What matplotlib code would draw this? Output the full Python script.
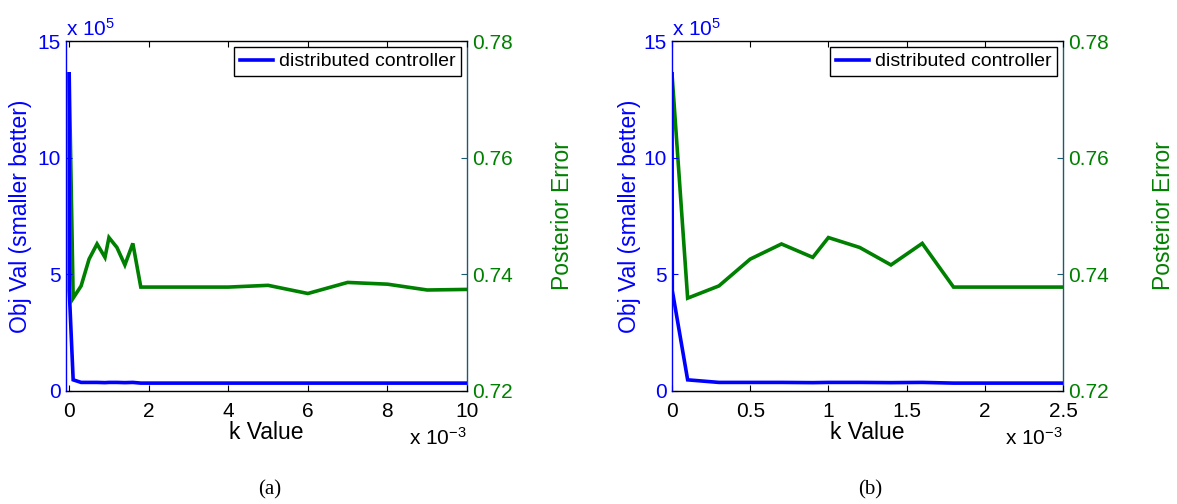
import matplotlib
matplotlib.use("Agg")
import matplotlib.pyplot as plt

plt.rcParams['font.family'] = ['Liberation Sans', 'DejaVu Sans']
plt.rcParams['mathtext.fontset'] = 'custom'
plt.rcParams['mathtext.rm'] = 'Liberation Sans'
plt.rcParams['mathtext.it'] = 'Liberation Sans'
plt.rcParams['mathtext.default'] = 'regular'

# ---------------- data (k in units of 1e-3, objective in units of 1e5) ----
k_err = [0, 0.1, 0.3, 0.5, 0.7, 0.9, 1.0, 1.2, 1.4, 1.6, 1.8, 2, 3, 4, 5, 6, 7, 8, 9, 10]
post_err = [0.7744, 0.7359, 0.7380, 0.7426, 0.7452, 0.7429, 0.7463, 0.7446, 0.7416,
            0.7453, 0.7378, 0.7378, 0.7378, 0.7378, 0.7381, 0.7367, 0.7386, 0.7383,
            0.7373, 0.7374]

k_obj = [0, 0.002, 0.1, 0.3, 0.5, 0.7, 0.9, 1.0, 1.2, 1.4, 1.6, 1.8, 2, 3, 4, 5, 6, 7, 8, 9, 10]
obj_val = [13.6, 4.3, 0.47, 0.36, 0.36, 0.36, 0.35, 0.36, 0.36, 0.35, 0.36, 0.33,
           0.33, 0.33, 0.33, 0.33, 0.33, 0.33, 0.33, 0.33, 0.33]

xlims = [(-0.08, 10), (0, 2.5)]
xticks = [[0, 2, 4, 6, 8, 10], [0, 0.5, 1, 1.5, 2, 2.5]]
xticklabels = [['0', '2', '4', '6', '8', '10'], ['0', '0.5', '1', '1.5', '2', '2.5']]
yticks_obj = [0, 5, 10, 15]
yticks_err = [0.72, 0.74, 0.76, 0.78]
yticklabels_err = ['0.72', '0.74', '0.76', '0.78']
panel_labels = ['(a)', '(b)']

BLUE = (0, 0, 1)
GREEN = (0, 0.5, 0)
EDGE = '#1d5a70'
FS = 15
FS_LAB = 16.5

W, H = 1177, 504
fig = plt.figure(figsize=(W / 100, H / 100), dpi=100)

axes_px = [(66, 467), (672, 1063)]
top_px, bot_px = 41.2, 390.8
ylab_x = [(32, 551), (641, 1152)]
panel_x = [270, 870]

for i in range(2):
    l, r = axes_px[i]
    ax = fig.add_axes([l / W, 1 - bot_px / H, (r - l) / W, (bot_px - top_px) / H])
    ax2 = ax.twinx()

    ax.plot(k_obj, obj_val, color=BLUE, lw=2.6, label='distributed controller',
            solid_joinstyle='miter', zorder=3)
    ax2.plot(k_err, post_err, color=GREEN, lw=2.6, solid_joinstyle='miter')

    ax.set_xlim(*xlims[i])
    ax.set_ylim(0, 15)
    ax2.set_ylim(0.72, 0.78)
    ax.set_xticks(xticks[i])
    ax.set_xticklabels(xticklabels[i])
    ax.set_yticks(yticks_obj)
    ax.set_yticklabels([str(v) for v in yticks_obj])
    ax2.set_yticks(yticks_err)
    ax2.set_yticklabels(yticklabels_err)

    for s in ['top', 'bottom']:
        ax.spines[s].set_color('black')
        ax.spines[s].set_linewidth(1.0)
    ax.spines['left'].set_color(BLUE)
    ax.spines['left'].set_linewidth(1.0)
    ax.spines['right'].set_visible(False)
    ax2.spines['right'].set_color(EDGE)
    ax2.spines['right'].set_linewidth(1.0)
    for s in ['top', 'bottom', 'left']:
        ax2.spines[s].set_visible(False)

    ax.tick_params(axis='x', which='both', direction='in', top=True, bottom=True,
                   length=4, width=0.8, colors='black', labelsize=FS, pad=8)
    ax.tick_params(axis='y', direction='in', left=True, right=False, length=4,
                   width=0.8, colors=BLUE, labelsize=FS, pad=4)
    ax2.tick_params(axis='y', direction='in', right=True, length=4, width=0.8,
                    colors=GREEN, labelsize=FS, pad=4)
    ax2.tick_params(axis='y', color=EDGE)

    ax.set_xlabel('k Value', fontsize=FS_LAB, color='black', labelpad=0)
    ax.set_ylabel('Obj Val (smaller better)', fontsize=FS_LAB, color=BLUE)
    ax.yaxis.set_label_coords((ylab_x[i][0] - l) / (r - l), 0.5)
    ax2.set_ylabel('Posterior Error', fontsize=FS_LAB, color=GREEN, rotation=90)
    ax2.yaxis.set_label_coords((ylab_x[i][1] - l) / (r - l), 0.5)

    ax.set_zorder(ax2.get_zorder() + 1)
    ax.patch.set_visible(False)

    leg = ax.legend(loc='upper right', fontsize=14, frameon=True, fancybox=False,
                    edgecolor='black', handlelength=1.7, handletextpad=0.3,
                    borderpad=0.3, borderaxespad=0.3, framealpha=1)
    leg.get_frame().set_linewidth(1.0)

    fig.text(l / W, 1 - 36 / H, r'x 10$^{5}$', color=BLUE, fontsize=FS,
             ha='left', va='baseline')
    fig.text(r / W, 1 - 445 / H, r'x 10$^{-3}$', color='black', fontsize=FS,
             ha='right', va='baseline')
    fig.text(panel_x[i] / W, 1 - 490 / H, panel_labels[i], fontsize=15,
             family='Liberation Serif', ha='center', va='center')

fig.savefig('out.png', dpi=100)
